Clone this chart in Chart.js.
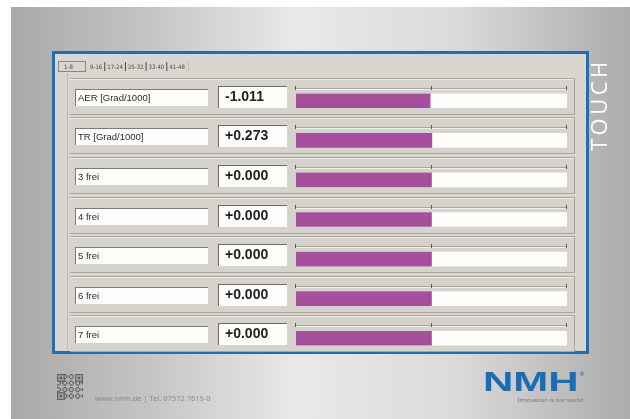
<!DOCTYPE html>
<html>
<head>
<meta charset="utf-8">
<script src="https://cdn.jsdelivr.net/npm/chart.js@4"></script>
<style>
html,body{margin:0;padding:0;background:#fff;}
#c{display:block;}
</style>
</head>
<body>
<canvas id="c" width="630" height="419"></canvas>
<script>
// ---- data ----
const channels = ['AER [Grad/1000]', 'TR [Grad/1000]', '3 frei', '4 frei', '5 frei', '6 frei', '7 frei'];
const readings = [-1.011, 0.273, 0.000, 0.000, 0.000, 0.000, 0.000];
const gaugeRange = [-100, 100];
const tabLabels = ['1-8', '9-16', '17-24', '25-32', '33-40', '41-48'];

function fmt(v) { return (v < 0 ? '-' : '+') + Math.abs(v).toFixed(3); }

const screenPlugin = {
  id: 'screen',
  beforeDraw(chart) {
    const ctx = chart.ctx;
    const W = chart.width, H = chart.height;
    ctx.save();
    // background
    ctx.fillStyle = '#ffffff';
    ctx.fillRect(0, 0, W, H);
    const g = ctx.createLinearGradient(11, 0, W, 0);
    g.addColorStop(0, '#a9a9a9');
    g.addColorStop(0.22, '#c4c4c4');
    g.addColorStop(0.46, '#e9e9e9');
    g.addColorStop(0.72, '#dadada');
    g.addColorStop(1, '#acacac');
    ctx.fillStyle = g;
    ctx.fillRect(11, 7, W - 11, H - 7);

    // blue frame
    ctx.fillStyle = '#1570bd';
    ctx.fillRect(52, 51, 537, 303);
    ctx.fillStyle = '#d9d6cf';
    ctx.fillRect(55, 54, 531, 297);

    // tabs
    ctx.font = '6px "DejaVu Sans Condensed"';
    ctx.fillStyle = '#4a4a4a';
    ctx.textBaseline = 'middle';
    ctx.strokeStyle = '#8a8780';
    ctx.lineWidth = 1;
    ctx.strokeRect(58.5, 61.5, 27, 10);
    let tx = 64;
    tabLabels.forEach((t, i) => {
      ctx.fillText(t, tx, 67);
      tx += ctx.measureText(t).width + 5;
      if (i === 0) tx = 90;
      if (i < tabLabels.length - 1 && i > 0) {
        ctx.fillRect(tx - 3, 62, 1, 9);
      }
    });
    ctx.fillStyle = '#bfbcb5';
    ctx.fillRect(tx - 2, 62, 1, 9);

    // left panel line
    ctx.fillStyle = '#bdb9b1';
    ctx.fillRect(67, 74, 1, 276);

    const ys = chart.scales.y, xs = chart.scales.x;
    const xL = xs.getPixelForValue(gaugeRange[0]);
    const xR = xs.getPixelForValue(gaugeRange[1]);
    const xM = xs.getPixelForValue(0);
    channels.forEach((name, i) => {
      const c = Math.round(ys.getPixelForValue(i));
      // group panel
      ctx.fillStyle = '#a8a49c';
      ctx.fillRect(70, c - 23, 505, 1);
      ctx.fillStyle = '#f0eee9';
      ctx.fillRect(70, c - 22, 505, 1);
      ctx.fillStyle = '#d6d3cc';
      ctx.fillRect(70, c - 21, 505, 34);
      ctx.fillStyle = '#a8a49c';
      ctx.fillRect(574, c - 22, 1, 36);
      ctx.fillRect(70, c + 13, 505, 1);
      // label box
      ctx.fillStyle = '#fdfdfb';
      ctx.fillRect(75, c - 12, 133, 17);
      ctx.fillStyle = '#7e7b75';
      ctx.fillRect(75, c - 12, 133, 1);
      ctx.fillRect(75, c - 12, 1, 17);
      ctx.fillStyle = '#2a2a2a';
      ctx.font = '9.5px "Liberation Sans"';
      ctx.textAlign = 'left';
      ctx.fillText(name, 78, c - 3);
      // value box
      ctx.fillStyle = '#fdfdfb';
      ctx.fillRect(218, c - 15, 69, 22);
      ctx.fillStyle = '#6e6b65';
      ctx.fillRect(218, c - 15, 69, 1);
      ctx.fillRect(218, c - 15, 1, 22);
      ctx.fillStyle = '#222';
      ctx.font = 'bold 14px "Liberation Sans"';
      ctx.fillText(fmt(readings[i]), 225, c - 4);
      // track top line and ticks
      ctx.fillStyle = '#a9a59d';
      ctx.fillRect(xL, c - 13, xR - xL, 1);
      ctx.fillStyle = '#f3f1ec';
      ctx.fillRect(xL, c - 12, xR - xL, 1);
      ctx.fillStyle = '#5d5a55';
      [xL, xM, xR].forEach(x => ctx.fillRect(Math.round(x) - 1, c - 15, 1, 4));
    });

    // TOUCH vertical
    ctx.save();
    ctx.translate(607, 151);
    ctx.rotate(-Math.PI / 2);
    ctx.fillStyle = '#ffffff';
    ctx.font = '400 22px "Open Sans"';
    ctx.textAlign = 'left';
    ctx.textBaseline = 'alphabetic';
    let lx = 0;
    'TOUCH'.split('').forEach(ch => {
      ctx.fillText(ch, lx, 0);
      lx += ctx.measureText(ch).width + 3.5;
    });
    ctx.restore();

    // footer QR
    ctx.fillStyle = '#555';
    const qx = 57, qy = 374, m = 1.3;
    for (let r = 0; r < 20; r++) {
      for (let s = 0; s < 20; s++) {
        const finder = (r < 6 && s < 6) || (r < 6 && s > 13) || (r > 13 && s < 6);
        let on;
        if (finder) {
          const rr = r > 13 ? r - 14 : r, ss = s > 13 ? s - 14 : s;
          on = rr === 0 || rr === 5 || ss === 0 || ss === 5 || (rr > 1 && rr < 4 && ss > 1 && ss < 4);
        } else {
          on = ((r * 7 + s * 11 + r * s) % 5) < 2;
        }
        if (on) ctx.fillRect(qx + s * m, qy + r * m, m, m);
      }
    }
    ctx.fillStyle = '#8a8a8a';
    ctx.font = '7.5px "Noto Sans"';
    ctx.textBaseline = 'alphabetic';
    ctx.fillText('www.nmh.de | Tel. 07572 7619-0', 95, 401);

    // NMH logo
    ctx.save();
    ctx.translate(483, 391);
    ctx.scale(1.5, 1);
    ctx.fillStyle = '#1a6db5';
    ctx.font = 'bold 28px "Liberation Sans"';
    ctx.fillText('NMH', 0, 0);
    ctx.restore();
    ctx.fillStyle = '#1a6db5';
    ctx.font = '6px "DejaVu Sans"';
    ctx.fillText('®', 579, 376);
    ctx.fillStyle = '#777';
    ctx.font = '6px "Noto Sans"';
    ctx.textAlign = 'right';
    ctx.fillText('Innovation is our world', 583, 402);
    ctx.restore();
  }
};

new Chart(document.getElementById('c'), {
  type: 'bar',
  data: {
    labels: channels,
    datasets: [
      {
        data: readings.map(v => [gaugeRange[0], v]),
        backgroundColor: '#a54f9c',
        borderWidth: 0,
        barThickness: 14,
        grouped: false
      },
      {
        data: readings.map(() => [gaugeRange[0], gaugeRange[1]]),
        backgroundColor: '#fdfdfc',
        borderWidth: 0,
        barThickness: 14,
        grouped: false
      }
    ]
  },
  plugins: [screenPlugin],
  options: {
    indexAxis: 'y',
    responsive: false,
    animation: false,
    devicePixelRatio: 1,
    layout: { padding: { left: 296, right: 63, top: 81, bottom: 61 } },
    plugins: { legend: { display: false }, tooltip: { enabled: false } },
    scales: {
      x: { display: false, min: gaugeRange[0], max: gaugeRange[1] },
      y: { display: false }
    }
  }
});
</script>
</body>
</html>
